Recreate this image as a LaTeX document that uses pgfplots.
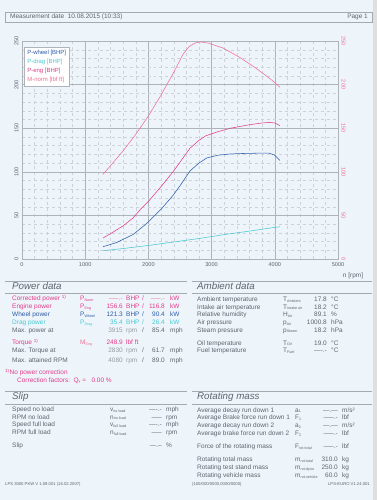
\documentclass[border=0pt]{standalone}
\usepackage{fontspec}
\setmainfont{Liberation Sans}
\usepackage{pgfplots}
\pgfplotsset{compat=1.18}
\definecolor{bg}{RGB}{238,245,250}
\definecolor{cwheel}{RGB}{44,92,170}
\definecolor{cdrag}{RGB}{70,200,210}
\definecolor{ceng}{RGB}{226,58,138}
\definecolor{ctorque}{RGB}{240,110,150}
\definecolor{txt}{RGB}{95,100,108}
\definecolor{ltxt}{RGB}{150,155,162}
\definecolor{gmaj}{RGB}{175,180,186}
\definecolor{gmin}{RGB}{205,210,216}
\definecolor{lines}{RGB}{165,170,176}
\newcommand{\fs}{\fontsize{6.5}{7}\selectfont}
\newcommand{\sub}[1]{\raisebox{-0.8bp}{\fontsize{3.7}{4}\selectfont #1}}
\begin{document}
\begin{tikzpicture}
\fill[bg] (0,0) rectangle (377bp,500bp);
\fill[gray!25] (373bp,0) rectangle (377bp,500bp);
\begin{axis}[
  at={(22bp,241bp)}, anchor=south west, scale only axis,
  width=316bp, height=218bp,
  xmin=0, xmax=5000, ymin=0, ymax=250,
  xtick={0,1000,...,5000}, ytick={0,50,...,250},
  minor x tick num=4, minor y tick num=4,
  grid=both,
  major grid style={gmaj,line width=0.4pt},
  minor grid style={gmin,dashed,line width=0.3pt},
  axis line style={gmaj},
  tick style={draw=none},
  xtick pos=bottom, ytick pos=left,
  /pgf/number format/assume math mode=true,
  /pgf/number format/1000 sep={},
  tick label style={font=\fontsize{5.6}{6}\selectfont, text=txt},
  yticklabel style={rotate=90, anchor=south},
  legend style={at={(rel axis cs:0.006,0.972)}, anchor=north west, draw=gmaj, fill=white,
    font=\fontsize{6}{7}\selectfont, inner sep=1.2pt, row sep=-0.8pt},
  legend cell align=left,
  legend image code/.code={},
]
\addplot[cwheel, line width=0.55pt] coordinates {
(1280,14) (1500,19) (1756,28) (1978,41) (2200,57) (2390,73) (2500,84) (2658,101)
(2800,110) (2927,116) (3100,119) (3300,120.5) (3500,121) (3700,121.3) (3915,121.3) (4000,119) (4080,113)};
\addlegendentry{\textcolor{cwheel}{P-wheel [BHP]}}
\addplot[cdrag, line width=0.55pt] coordinates {
(1280,9.5) (1600,12) (2000,15.5) (2400,19.5) (2800,23.5) (3200,28) (3600,32) (3915,35.4) (4080,37)};
\addlegendentry{\textcolor{cdrag}{P-drag [BHP]}}
\addplot[ceng, line width=0.55pt] coordinates {
(1280,24) (1400,29) (1600,38) (1756,47) (1900,59) (2000,66) (2200,83) (2390,100) (2500,111)
(2658,127) (2800,136) (2900,141) (3100,146) (3300,150) (3450,152) (3600,154) (3800,156)
(3915,156.6) (4000,156) (4080,153)};
\addlegendentry{\textcolor{ceng}{P-eng [BHP]}}
\addplot[ctorque, line width=0.55pt] coordinates {
(1280,97) (1400,107) (1600,124) (1800,143) (2000,164) (2200,188) (2400,214) (2550,235)
(2650,244) (2750,248) (2830,248.9) (2950,247.5) (3180,242) (3450,231) (3718,218) (3956,205) (4080,197)};
\addlegendentry{\textcolor{ctorque}{M-norm [lbf ft]}}
\end{axis}
\begin{axis}[
  at={(22bp,241bp)}, anchor=south west, scale only axis,
  width=316bp, height=218bp,
  xmin=0, xmax=5000, ymin=0, ymax=250,
  axis x line=none, axis y line*=right,
  ytick={0,50,...,250},
  axis line style={gmaj},
  tick style={draw=none},
  /pgf/number format/assume math mode=true,
  yticklabel style={font=\fontsize{5.6}{6}\selectfont, text=ctorque, rotate=-90, anchor=south},
]
\addplot[draw=none] coordinates {(0,0) (5000,250)};
\end{axis}
\begin{scope}[x=1bp,y=-1bp,yshift=500bp,
  t/.style={inner sep=0pt, anchor=west, font=\fs, text=txt, text height=4.6bp, text depth=1.3bp},
  r/.style={t, anchor=east},
  h/.style={t, font=\fontsize{9.8}{10}\selectfont\itshape, text height=7bp, text depth=2bp}]
% header
\draw[lines,line width=0.4pt] (5,12.5) rectangle (372,22);
\node[t] at (10,17.3) {Measurement date\ \ 10.08.2015 (10:33)};
\node[r] at (368,17.3) {Page 1};
\node[t, anchor=center] at (353,276) {n [rpm]};
% section lines
\draw[lines,line width=0.4pt] (5,281) -- (187,281) (5,293) -- (187,293);
\draw[lines,line width=0.4pt] (192,281) -- (372,281) (192,293) -- (372,293);
\draw[lines,line width=0.4pt] (5,391) -- (187,391) (5,404) -- (187,404);
\draw[lines,line width=0.4pt] (192,391) -- (372,391) (192,404) -- (372,404);
% Power data
\node[h] at (12,287) {Power data};
\node[t,text=ceng] at (12,299) {Corrected power \textsuperscript{1)}};
\node[t,text=ceng] at (80,299) {P\sub{Norm}};
\node[r,text=ctorque] at (123,299) {-----.-};
\node[t,text=ceng] at (126,299) {BHP};
\node[t,text=ceng] at (142,299) {/};
\node[r,text=ctorque] at (165,299) {-----.-};
\node[t,text=ceng] at (170,299) {kW};
\node[t,text=ceng] at (12,307) {Engine power};
\node[t,text=ceng] at (80,307) {P\sub{Eng}};
\node[r,text=ceng] at (123,307) {156.6};
\node[t,text=ceng] at (126,307) {BHP};
\node[t,text=ceng] at (142,307) {/};
\node[r,text=ceng] at (165,307) {116.8};
\node[t,text=ceng] at (170,307) {kW};
\node[t,text=cwheel] at (12,315) {Wheel power};
\node[t,text=cwheel] at (80,315) {P\sub{Wheel}};
\node[r,text=cwheel] at (123,315) {121.3};
\node[t,text=cwheel] at (126,315) {BHP};
\node[t,text=cwheel] at (142,315) {/};
\node[r,text=cwheel] at (165,315) {90.4};
\node[t,text=cwheel] at (170,315) {kW};
\node[t,text=cdrag] at (12,323) {Drag power};
\node[t,text=cdrag] at (80,323) {P\sub{Drag}};
\node[r,text=cdrag] at (123,323) {35.4};
\node[t,text=cdrag] at (126,323) {BHP};
\node[t,text=cdrag] at (142,323) {/};
\node[r,text=cdrag] at (165,323) {26.4};
\node[t,text=cdrag] at (170,323) {kW};
\node[t] at (12,331) {Max. power at};
\node[r,text=ltxt] at (123,331) {3915};
\node[t,text=ltxt] at (126,331) {rpm};
\node[t] at (142,331) {/};
\node[r] at (165,331) {85.4};
\node[t] at (170,331) {mph};
\node[t,text=ceng] at (12,343) {Torque \textsuperscript{1)}};
\node[t,text=ctorque] at (80,343) {M\sub{Eng}};
\node[r,text=ceng] at (123,343) {248.9};
\node[t,text=ceng] at (126,343) {lbf ft};
\node[t] at (12,351) {Max. Torque at};
\node[r,text=ltxt] at (123,351) {2830};
\node[t,text=ltxt] at (126,351) {rpm};
\node[t] at (142,351) {/};
\node[r] at (165,351) {61.7};
\node[t] at (170,351) {mph};
\node[t] at (12,361) {Max. attained RPM};
\node[r,text=ltxt] at (123,361) {4080};
\node[t,text=ltxt] at (126,361) {rpm};
\node[t] at (142,361) {/};
\node[r] at (165,361) {89.0};
\node[t] at (170,361) {mph};
\node[t,text=ceng] at (5,373) {\textsuperscript{1)}No power correction};
\node[t,text=ceng] at (17,380.5) {Correction factors:\ \ Q\sub{y}\ =\ \ \ 0.00 \%};
% Ambient data
\node[h] at (197,287) {Ambient data};
\node[t] at (197,300) {Ambient temperature};
\node[t] at (283,300) {T\sub{Ambient}};
\node[r] at (327,300) {17.8};
\node[t] at (331,300) {°C};
\node[t] at (197,307.5) {Intake air temperature};
\node[t] at (283,307.5) {T\sub{Intake air}};
\node[r] at (327,307.5) {18.2};
\node[t] at (331,307.5) {°C};
\node[t] at (197,315) {Relative humidity};
\node[t] at (283,315) {H\sub{Air}};
\node[r] at (327,315) {89.1};
\node[t] at (331,315) {\%};
\node[t] at (197,323) {Air pressure};
\node[t] at (283,323) {p\sub{Air}};
\node[r] at (327,323) {1000.8};
\node[t] at (331,323) {hPa};
\node[t] at (197,330.5) {Steam pressure};
\node[t] at (283,330.5) {p\sub{Steam}};
\node[r] at (327,330.5) {18.2};
\node[t] at (331,330.5) {hPa};
\node[t] at (197,343.5) {Oil temperature};
\node[t] at (283,343.5) {T\sub{Oil}};
\node[r] at (327,343.5) {19.0};
\node[t] at (331,343.5) {°C};
\node[t] at (197,351) {Fuel temperature};
\node[t] at (283,351) {T\sub{Fuel}};
\node[r] at (327,351) {----.-};
\node[t] at (331,351) {°C};
% Slip
\node[h] at (12,397.5) {Slip};
\node[t] at (12,410) {Speed no load};
\node[t] at (110,410) {v\sub{no load}};
\node[r] at (162,410) {----.-};
\node[t] at (166,410) {mph};
\node[t] at (12,417.5) {RPM no load};
\node[t] at (110,417.5) {n\sub{no load}};
\node[r] at (162,417.5) {-----};
\node[t] at (166,417.5) {rpm};
\node[t] at (12,425) {Speed full load};
\node[t] at (110,425) {v\sub{full load}};
\node[r] at (162,425) {----.-};
\node[t] at (166,425) {mph};
\node[t] at (12,433) {RPM full load};
\node[t] at (110,433) {n\sub{full load}};
\node[r] at (162,433) {-----};
\node[t] at (166,433) {rpm};
\node[t] at (12,446) {Slip};
\node[r] at (162,446) {---.--};
\node[t] at (166,446) {\%};
% Rotating mass
\node[h] at (197,397.5) {Rotating mass};
\node[t] at (197,410.5) {Average decay run down 1};
\node[t] at (295,410.5) {a\sub{1}};
\node[r] at (338,410.5) {---.---};
\node[t] at (342,410.5) {m/s²};
\node[t] at (197,418) {Average Brake force run down 1};
\node[t] at (295,418) {F\sub{1}};
\node[r] at (338,418) {-----.-};
\node[t] at (342,418) {lbf};
\node[t] at (197,426) {Average decay run down 2};
\node[t] at (295,426) {a\sub{2}};
\node[r] at (338,426) {---.---};
\node[t] at (342,426) {m/s²};
\node[t] at (197,434) {Average brake force run down 2};
\node[t] at (295,434) {F\sub{2}};
\node[r] at (338,434) {-----.-};
\node[t] at (342,434) {lbf};
\node[t] at (197,447) {Force of the rotating mass};
\node[t] at (295,447) {F\sub{rot-total}};
\node[r] at (338,447) {-----.-};
\node[t] at (342,447) {lbf};
\node[t] at (197,460) {Rotating total mass};
\node[t] at (295,460) {m\sub{rot-total}};
\node[r] at (338,460) {310.0};
\node[t] at (342,460) {kg};
\node[t] at (197,468) {Rotating test stand mass};
\node[t] at (295,468) {m\sub{rot-dyno}};
\node[r] at (338,468) {250.0};
\node[t] at (342,468) {kg};
\node[t] at (197,476) {Rotating vehicle mass};
\node[t] at (295,476) {m\sub{rot-vehicle}};
\node[r] at (338,476) {60.0};
\node[t] at (342,476) {kg};
% footer
\node[t,font=\fontsize{4.2}{5}\selectfont] at (5,484) {LPS 3000 PKW V 1.09.001 (16.02.2007)};
\node[t,font=\fontsize{4.2}{5}\selectfont] at (192,484) {(100/000/0000,0000/0000)};
\node[r,font=\fontsize{4.2}{5}\selectfont] at (370,484) {LPS-EURO V1.24.001};
\end{scope}
\pgfresetboundingbox
\path[use as bounding box] (0,0) rectangle (377bp,500bp);
\end{tikzpicture}
\end{document}
